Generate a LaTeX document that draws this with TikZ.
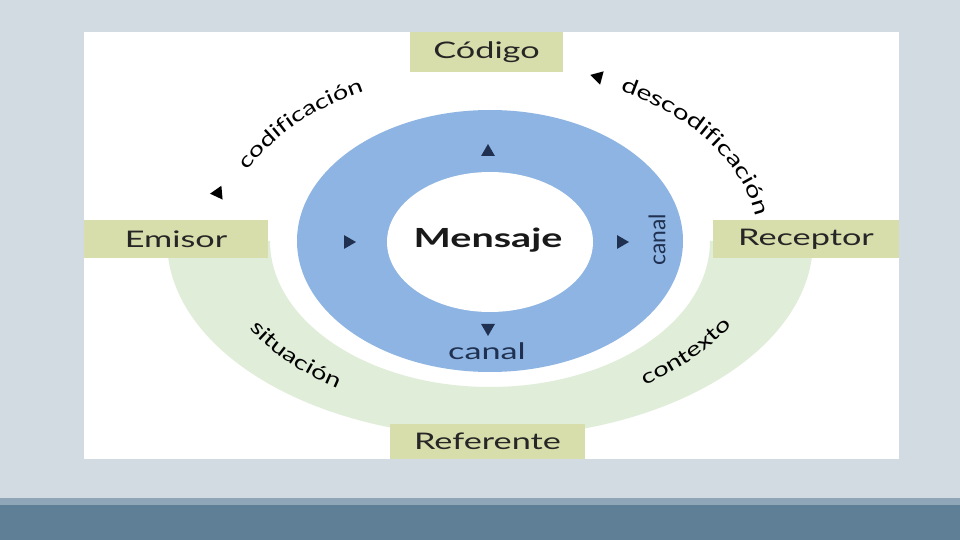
\documentclass[tikz,border=0pt]{standalone}
\usepackage{fontspec}
\setmainfont{Lato}
\newfontfamily\widefont[FakeStretch=1.5]{Lato}
\newfontfamily\arcfont[FakeStretch=1.35]{Lato}
\usetikzlibrary{shapes.geometric}
\usetikzlibrary{decorations.text}
\definecolor{slidebg}{HTML}{D3DBE2}
\definecolor{bandlight}{HTML}{8EA6B8}
\definecolor{banddark}{HTML}{5F7F96}
\definecolor{ringblue}{HTML}{8DB4E2}
\definecolor{ringgreen}{HTML}{E0EDD8}
\definecolor{boxgreen}{HTML}{D8DEAB}
\definecolor{navy}{HTML}{1F3050}

\begin{document}
\begin{tikzpicture}[x=0.02cm,y=0.02cm,
    lbl/.style={fill=boxgreen,text=black!85,inner sep=0pt,font=\widefont\fontsize{13}{15}\selectfont},
    tri/.style={regular polygon,regular polygon sides=3,fill=navy,inner sep=0pt,minimum size=0.32cm},
    arctext/.style={decorate,decoration={text along path,text align=center}}]
      \useasboundingbox (0,0) rectangle (960,-540);
      % slide
      \fill[slidebg] (0,0) rectangle (960,-540);
      \fill[bandlight] (0,-498) rectangle (960,-505);
      \fill[banddark] (0,-505) rectangle (960,-540);
      \fill[white] (84,-32) rectangle (899,-459);
      \coordinate (ctr) at (490,-241);

      % rings
      \fill[ringgreen] (ctr) ++(-323,0) arc[start angle=180,end angle=360,x radius=323,y radius=196]
      			-- ++(-103,0) arc[start angle=360,end angle=180,x radius=220,y radius=146] -- cycle;
      \fill[ringblue] (ctr) ellipse[x radius=193,y radius=131];
      \fill[white] (490,-242) ellipse[x radius=103,y radius=70];

      % boxes
      \node[lbl,minimum width=3.06cm,minimum height=0.8cm] (codigo) at (486.5,-52) {Código};
      \node[lbl,minimum width=3.68cm,minimum height=0.76cm] (emisor) at (176,-239) {Emisor};
      \node[lbl,minimum width=3.72cm,minimum height=0.76cm] (receptor) at (806,-239) {Receptor};
      \node[lbl,minimum width=3.9cm,minimum height=0.7cm] (referente) at (487.5,-441.5) {Referente};

      \node[font=\widefont\bfseries\fontsize{15}{17}\selectfont,text=black!90] (mensaje) at (488,-240) {Mensaje};
      \node[font=\widefont\fontsize{13}{15}\selectfont,text=navy] (canal1) at (487,-351) {canal};
      \node[font=\fontsize{13}{15}\selectfont,text=navy,rotate=90] (canal2) at (657,-240) {canal};

      % small arrow heads
      \node[tri] (t1) at (488,-152) {};
      \node[tri,rotate=180] (t2) at (488,-328) {};
      \node[tri,rotate=-90] (t3) at (348,-242) {};
      \node[tri,rotate=-90] (t4) at (621,-242) {};
      \node[tri,fill=black,rotate=95] (t5) at (218,-193) {};
      \node[tri,fill=black,rotate=195] (t6) at (598,-77) {};

      % texts on the arcs
      \path[arctext,decoration={text={|\arcfont\fontsize{11.5}{13}\selectfont|codificación}}]
      			(ctr) ++(176:266 and 170) arc[start angle=176,end angle=104,x radius=266,y radius=170];
      \path[arctext,decoration={text={|\arcfont\fontsize{12}{14}\selectfont|descodificación}}]
      			(ctr) ++(76:268 and 172) arc[start angle=76,end angle=-14,x radius=268,y radius=172];
      \path[arctext,decoration={text={|\arcfont\fontsize{11.5}{13}\selectfont|situación}}]
      			(ctr) ++(186:278 and 176) arc[start angle=186,end angle=254,x radius=278,y radius=176];
      \path[arctext,decoration={text={|\arcfont\fontsize{11.5}{13}\selectfont|contexto}}]
      			(ctr) ++(287:276 and 174) arc[start angle=287,end angle=355,x radius=276,y radius=174];
    \end{tikzpicture}
\end{document}
